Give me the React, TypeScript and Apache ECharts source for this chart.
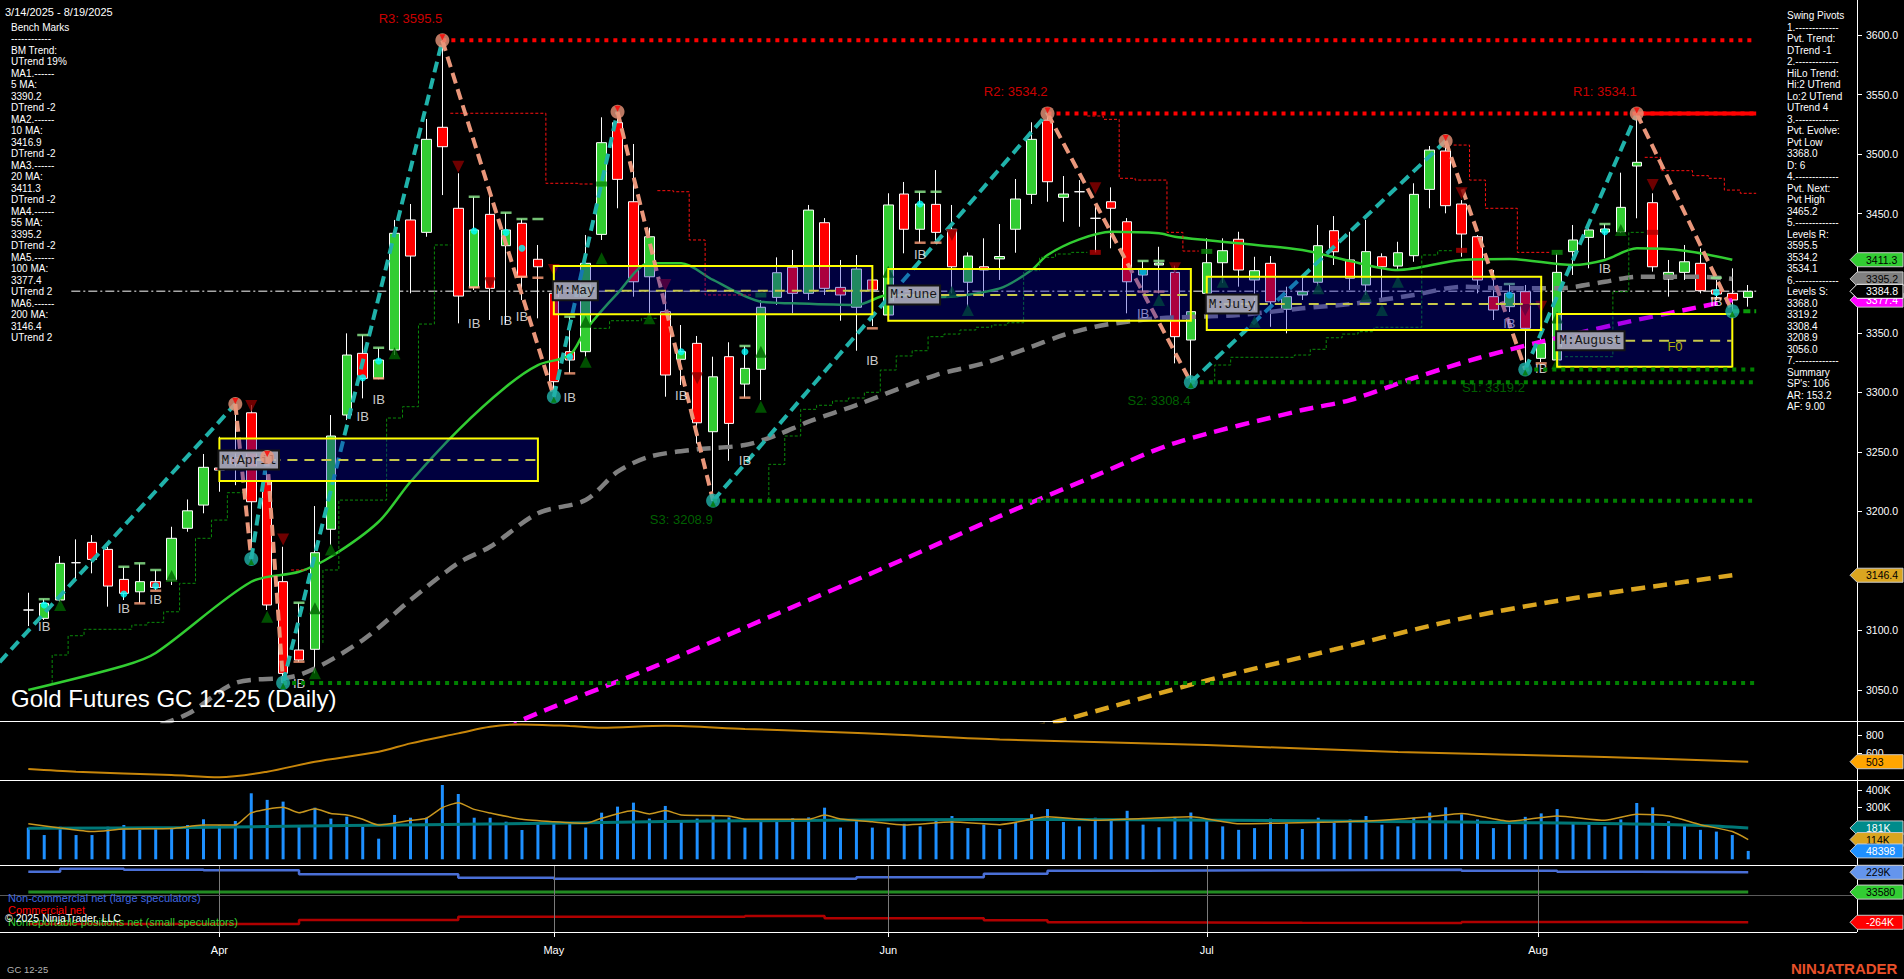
import { useEffect, useRef } from 'react';
import * as echarts from 'echarts';

const FONT = '"Liberation Sans", Arial, sans-serif';
const MONO = '"Liberation Mono", "DejaVu Sans Mono", monospace';

// ---- trading sessions shown (GC 12-25 daily) ----
const SESSIONS: [string, number[]][] = [
  ['03', [14, 17, 18, 19, 20, 21, 24, 25, 26, 27, 28, 31]],
  ['04', [1, 2, 3, 4, 7, 8, 9, 10, 11, 14, 15, 16, 17, 21, 22, 23, 24, 25, 28, 29, 30]],
  ['05', [1, 2, 5, 6, 7, 8, 9, 12, 13, 14, 15, 16, 19, 20, 21, 22, 23, 27, 28, 29, 30]],
  ['06', [2, 3, 4, 5, 6, 9, 10, 11, 12, 13, 16, 17, 18, 20, 23, 24, 25, 26, 27, 30]],
  ['07', [1, 2, 3, 7, 8, 9, 10, 11, 14, 15, 16, 17, 18, 21, 22, 23, 24, 25, 28, 29, 30, 31]],
  ['08', [1, 4, 5, 6, 7, 8, 11, 12, 13, 14, 15, 18, 19]],
];
const DATES = SESSIONS.flatMap(([m, days]) => days.map((d) => `2025-${m}-${String(d).padStart(2, '0')}`));
// month boundary marks on the time scale (bar units) and their names
const MONTH_TICKS = [12, 33, 54, 74, 94.8];
const MONTH_NAMES = ['Apr', 'May', 'Jun', 'Jul', 'Aug'];

// [open, close, low, high]
const OHLC: number[][] = [
  [3117.2, 3117.2, 3103.7, 3131.7], [3110.2, 3122.8, 3108.8, 3126.3], [3125.6, 3156.4, 3124.0, 3162.5],
  [3156.9, 3156.9, 3142.4, 3176.5], [3174.0, 3159.7, 3148.0, 3180.1], [3168.1, 3137.3, 3120.0, 3170.3],
  [3142.9, 3131.2, 3125.6, 3153.5], [3132.5, 3141.0, 3122.8, 3156.4], [3141.0, 3136.2, 3134.0, 3150.8],
  [3142.4, 3177.4, 3138.2, 3187.1], [3185.8, 3200.5, 3182.9, 3210.0], [3205.3, 3237.0, 3198.4, 3248.2],
  [3236.4, 3234.7, 3216.5, 3262.7], [3245.0, 3240.0, 3222.0, 3290.2], [3282.8, 3208.1, 3160.0, 3289.3],
  [3224.9, 3121.4, 3117.2, 3245.6], [3141.0, 3064.0, 3056.0, 3170.3], [3083.6, 3075.2, 3073.5, 3123.3],
  [3084.2, 3165.3, 3064.0, 3204.5], [3185.0, 3263.3, 3171.8, 3280.9], [3280.9, 3331.3, 3276.7, 3349.5],
  [3332.7, 3311.7, 3294.9, 3348.1], [3311.7, 3327.1, 3311.0, 3337.4], [3335.5, 3433.5, 3331.3, 3444.7],
  [3444.7, 3414.4, 3383.1, 3458.1], [3434.3, 3512.4, 3430.6, 3529.5], [3522.5, 3506.2, 3465.6, 3595.5],
  [3454.5, 3380.8, 3357.9, 3483.9], [3388.1, 3436.3, 3385.9, 3464.2], [3449.4, 3387.3, 3360.7, 3469.8],
  [3423.1, 3436.3, 3357.9, 3450.8], [3441.9, 3397.0, 3377.5, 3445.5], [3411.7, 3405.4, 3362.1, 3423.7],
  [3383.1, 3308.9, 3296.3, 3405.4], [3334.1, 3327.1, 3315.9, 3363.5], [3334.1, 3408.3, 3329.9, 3432.1],
  [3432.6, 3509.6, 3427.9, 3530.9], [3526.4, 3478.8, 3454.5, 3535.6], [3460.0, 3392.8, 3380.3, 3508.5],
  [3397.0, 3430.6, 3364.9, 3438.2], [3367.7, 3314.5, 3296.3, 3385.9], [3327.7, 3334.1, 3306.1, 3356.5],
  [3341.1, 3274.4, 3257.0, 3347.3], [3266.9, 3313.0, 3208.9, 3329.9], [3329.9, 3273.9, 3242.5, 3342.0],
  [3306.9, 3320.1, 3295.5, 3338.9], [3319.3, 3371.4, 3293.5, 3377.5], [3379.7, 3400.4, 3373.3, 3413.3],
  [3404.9, 3383.1, 3366.3, 3419.5], [3383.1, 3453.0, 3377.5, 3457.3], [3442.4, 3387.3, 3381.7, 3446.3],
  [3388.1, 3381.7, 3360.1, 3411.1], [3371.4, 3403.5, 3334.9, 3415.3], [3394.3, 3385.9, 3355.6, 3402.7],
  [3364.9, 3457.3, 3362.4, 3467.1], [3466.5, 3436.9, 3416.7, 3476.6], [3436.9, 3458.1, 3425.6, 3468.4],
  [3457.8, 3434.3, 3425.6, 3486.6], [3436.9, 3405.4, 3383.1, 3457.3], [3392.4, 3414.4, 3371.9, 3417.5],
  [3405.4, 3402.7, 3380.3, 3429.3], [3412.0, 3414.0, 3394.3, 3441.3], [3436.9, 3462.3, 3417.2, 3479.1],
  [3466.2, 3512.4, 3458.1, 3526.7], [3528.6, 3476.8, 3460.0, 3534.2], [3463.7, 3466.5, 3443.2, 3481.6],
  [3468.4, 3468.4, 3439.0, 3478.2], [3446.1, 3446.1, 3417.5, 3457.3], [3460.0, 3454.5, 3420.9, 3472.1],
  [3443.2, 3392.8, 3366.3, 3446.3], [3398.5, 3403.5, 3384.5, 3410.3], [3406.9, 3408.5, 3383.1, 3422.2],
  [3400.7, 3346.7, 3324.3, 3406.3], [3343.9, 3367.7, 3308.4, 3383.1], [3383.1, 3408.8, 3380.8, 3429.3],
  [3408.8, 3418.9, 3391.8, 3429.3], [3428.5, 3402.7, 3388.7, 3434.8], [3394.3, 3402.1, 3366.3, 3413.8],
  [3408.3, 3376.0, 3355.0, 3414.4], [3369.7, 3380.3, 3349.5, 3388.7], [3381.7, 3384.5, 3377.5, 3397.0],
  [3392.4, 3423.1, 3389.2, 3440.5], [3435.7, 3418.0, 3406.9, 3448.0], [3411.1, 3395.7, 3385.9, 3434.8],
  [3390.1, 3418.1, 3381.7, 3444.7], [3413.8, 3405.4, 3376.0, 3416.7], [3406.0, 3417.2, 3402.7, 3426.4],
  [3414.7, 3466.2, 3409.6, 3475.5], [3470.4, 3503.4, 3454.5, 3506.8], [3502.6, 3456.7, 3450.3, 3511.0],
  [3458.1, 3432.9, 3413.8, 3461.4], [3430.6, 3394.3, 3383.1, 3432.0], [3380.3, 3369.1, 3360.7, 3402.7],
  [3371.9, 3383.1, 3367.4, 3390.1], [3384.5, 3353.7, 3319.2, 3390.1], [3328.5, 3341.1, 3325.4, 3355.1],
  [3327.1, 3400.7, 3325.4, 3416.7], [3418.1, 3427.9, 3398.5, 3440.5], [3430.1, 3436.3, 3404.1, 3441.9],
  [3434.6, 3437.1, 3412.5, 3441.3], [3434.8, 3455.3, 3433.7, 3484.4], [3490.0, 3493.1, 3446.1, 3534.1],
  [3459.2, 3405.4, 3401.3, 3467.1], [3395.1, 3400.7, 3380.3, 3411.1], [3400.7, 3409.6, 3394.3, 3423.7],
  [3408.3, 3385.3, 3383.1, 3420.9], [3385.9, 3382.5, 3377.5, 3394.3], [3383.1, 3377.5, 3368.0, 3404.1],
  [3379.7, 3384.8, 3371.9, 3390.1],
];

// volume, thousands of contracts
const VOLUME_K = [
  183, 140, 188, 140, 140, 188, 198, 169, 173, 185, 198, 231, 196, 221, 381, 343, 333, 198, 298, 235,
  246, 188, 119, 256, 240, 240, 429, 377, 240, 240, 217, 169, 204, 217, 211, 183, 269, 304, 327, 235,
  308, 217, 235, 250, 242, 183, 223, 227, 237, 242, 298, 183, 231, 183, 183, 205, 190, 230, 250, 180,
  200, 175, 210, 260, 290, 215, 190, 240, 230, 280, 200, 185, 245, 270, 230, 190, 170, 180, 235, 205,
  175, 240, 210, 230, 250, 200, 190, 240, 270, 300, 260, 230, 180, 200, 245, 265, 290, 210, 200, 190,
  230, 325, 300, 220, 195, 170, 160, 140, 48.398,
];

// moving averages, [bar, price]
const MA20 = [[0, 3050.0], [6, 3070.4], [8, 3081.1], [14, 3140.9], [17, 3149.3], [19, 3161.9], [22, 3191.3], [24, 3224.9], [27, 3268.3], [30, 3304.7], [32, 3322.9], [34, 3331.3], [35, 3352.3], [37, 3383.1], [39, 3408.3], [41, 3408.3], [43, 3394.3], [46, 3376.1], [48, 3374.7], [52, 3373.3], [54, 3381.7], [57, 3379.8], [61, 3387.3], [63, 3402.7], [64, 3415.3], [66, 3428.4], [68, 3434.8], [71, 3433.5], [72, 3430.6], [76, 3425.1], [80, 3419.5], [83, 3410.2], [86, 3402.7], [90, 3411.1], [93, 3411.9], [97, 3406.9], [99, 3411.1], [101, 3420.9], [104, 3418.9], [107, 3411.3]];
const MA55 = [[7, 3015.0], [10, 3029.8], [13, 3055.9], [17, 3062.6], [21, 3092.0], [24, 3125.6], [27, 3156.6], [29, 3170.3], [32, 3198.4], [35, 3209.5], [37, 3233.3], [39, 3245.9], [42, 3252.1], [45, 3255.7], [47, 3264.1], [49, 3275.3], [52, 3289.3], [57, 3314.5], [60, 3324.3], [63, 3338.3], [65, 3348.1], [67, 3355.1], [69, 3359.3], [71, 3362.1], [76, 3364.9], [80, 3370.5], [83, 3374.1], [87, 3381.7], [90, 3388.6], [93, 3387.3], [96, 3387.3], [99, 3392.8], [101, 3397.0], [105, 3397.0], [107, 3395.2]];
const MA100 = [[30, 3015.0], [31, 3024.8], [39, 3068.0], [47, 3114.0], [55, 3160.0], [61, 3196.0], [67, 3230.0], [72, 3257.4], [80, 3285.1], [83, 3293.5], [87, 3312.0], [91, 3328.6], [95, 3342.5], [100, 3357.9], [104, 3369.1], [107, 3377.4]];
const MA200 = [[63, 3018.0], [65, 3024.8], [74, 3058.0], [82, 3084.0], [90, 3110.0], [97, 3127.0], [107, 3146.4]];

// trailing stop steps, [bar, level]
const SUPPORT_STEPS = [
  [[1.5, 3055.9], [1.5, 3079.4], [2.5, 3095.6], [3.5, 3101.0], [6.5, 3104.6], [7.5, 3106.8], [8.5, 3115.7], [9.5, 3139.6], [10.5, 3177.4], [11.5, 3192.7], [12.5, 3215.7], [13.5, 3215.7]],
  [[18.5, 3089.5], [18.5, 3150.8], [19.5, 3209.5], [22.5, 3278.4], [23.5, 3287.9], [24.5, 3357.3], [25.5, 3423.7], [26.5, 3423.7]],
  [[35.5, 3353.7], [36.5, 3360.1], [38.5, 3362.1], [39.5, 3362.1]],
  [[46.5, 3209.5], [46.5, 3239.5], [47.5, 3263.3], [48.5, 3285.7], [49.5, 3289.1], [50.5, 3292.7], [51.5, 3295.2], [52.5, 3300.0], [53.5, 3318.7], [54.5, 3330.5], [55.5, 3334.9], [56.5, 3346.7], [57.5, 3348.9], [58.5, 3352.3], [59.5, 3354.6], [60.5, 3356.5], [61.5, 3358.4], [62.5, 3402.1], [63.5, 3413.3], [64.5, 3416.1], [65.5, 3417.5], [66.5, 3417.5]],
  [[74.5, 3309.0], [74.5, 3322.9], [75.5, 3329.4], [79.5, 3331.3], [80.5, 3336.1], [81.5, 3345.8], [82.5, 3348.9], [83.5, 3350.9], [84.5, 3354.6], [87.5, 3415.3], [88.5, 3418.9], [89.5, 3418.9]],
  [[96.5, 3329.9], [99.5, 3384.5], [100.5, 3434.3], [101.5, 3434.3]],
];
const RESIST_STEPS = [
  [[16.5, 3150.8], [17.5, 3150.8]],
  [[26.5, 3534.3], [32.5, 3475.5], [34.5, 3474.9], [35.5, 3474.9]],
  [[39.5, 3469.3], [40.5, 3468.4], [41.5, 3427.9], [42.5, 3381.7], [45.5, 3381.7]],
  [[66.5, 3532.0], [67.5, 3529.2], [68.5, 3479.7], [69.5, 3478.2], [71.5, 3434.3], [72.5, 3418.6], [73.5, 3418.6]],
  [[89.5, 3507.6], [90.5, 3478.2], [91.5, 3454.5], [93.5, 3417.5], [95.5, 3417.5]],
  [[101.5, 3497.3], [102.5, 3486.1], [104.5, 3481.9], [105.5, 3479.7], [106.5, 3469.8], [107.5, 3467.1], [108.5, 3467.1]],
];

// swing pivots
const SWING_BARS = [-1.8, 13, 14, 15, 16, 26, 33, 37, 43, 64, 73, 89, 94, 101, 107];
const SWING_PRICES = [3073.5, 3290.2, 3160.0, 3245.6, 3056.0, 3595.5, 3296.3, 3535.6, 3208.9, 3534.2, 3308.4, 3511.0, 3319.2, 3534.1, 3368.0];

// swing levels
const LEVEL_NAMES = ['R3', 'R2', 'R1', 'S3', 'S2', 'S1'];
const LEVEL_PRICES = [3595.5, 3534.2, 3534.1, 3208.9, 3308.4, 3319.2];
const LEVEL_FROM = [26, 64, 101, 43, 73, 94];
const EXTRA_SUPPORT_PRICES = [3056.0];
const EXTRA_SUPPORT_FROM = [16];
const PIVOT_LOW_PRICE = 3368.0;
const PIVOT_LOW_FROM = 107;

// monthly range boxes
const BOX_NAMES = ['M:April', 'M:May', 'M:June', 'M:July', 'M:August'];
const BOX_START = [12, 33, 54, 74, 96];
const BOX_END = [32, 53, 73, 95, 107];
const BOX_TOP = [3261.3, 3406.0, 3403.5, 3397.0, 3365.7];
const BOX_MID = [3243.1, 3385.3, 3381.7, 3374.1, 3343.3];
const BOX_BOTTOM = [3225.5, 3365.5, 3360.1, 3352.3, 3321.5];
const F0_MARK = [103.4, 3338.3];

// bar signals, [bar, price]
const DOWN_MARKS = [[14, 3288.5], [16, 3176.5], [27, 3489.4], [29, 3391.5], [33, 3402.7], [40, 3390.1], [42, 3311.7], [58, 3432.1], [67, 3471.3], [72, 3404.1], [90, 3467.1], [94, 3369.0], [95, 3371.9], [102, 3474.1]];
const UP_MARKS = [[2, 3121.4], [9, 3145.7], [15, 3111.6], [18, 3118.6], [18, 3064.0], [19, 3168.1], [23, 3332.7], [35, 3325.7], [35, 3359.3], [36, 3412.5], [39, 3362.1], [46, 3287.9], [46, 3334.1], [54, 3401.2], [58, 3384.5], [59, 3369.1], [71, 3377.5], [75, 3392.8], [77, 3359.3], [81, 3387.3], [84, 3380.8], [85, 3369.1], [86, 3392.8], [96, 3362.9], [96, 3324.3], [100, 3436.3]];
const IB_MARKS = [[1, 3103.1], [6, 3118.6], [8, 3125.6], [17, 3055.6], [21, 3279.5], [22, 3294.3], [28, 3357.9], [30, 3360.7], [31, 3364.0], [34, 3295.4], [41, 3296.9], [45, 3242.5], [53, 3327.1], [56, 3416.1], [70, 3366.3], [93, 3357.9], [95, 3320.1], [99, 3404.1], [106, 3376.0]];
const CYAN_DOTS = [[1, 3121.4], [6, 3130.6], [8, 3137.6], [21, 3312.2], [22, 3326.3], [28, 3435.4], [30, 3434.3], [31, 3420.9], [34, 3329.9], [41, 3334.1], [45, 3334.1], [56, 3458.1], [70, 3401.2], [93, 3381.7], [99, 3434.8], [106, 3383.9]];
const IB_TOP = [[1, 3126.3], [6, 3153.5], [7, 3156.4], [8, 3150.8], [17, 3123.3], [21, 3348.1], [22, 3337.4], [28, 3464.2], [30, 3450.8], [31, 3445.5], [32, 3445.5], [34, 3363.5], [45, 3338.9], [56, 3468.4], [57, 3468.4], [70, 3410.3], [71, 3410.3], [93, 3390.9], [99, 3441.3], [106, 3396.2]];
const IB_BOTTOM = [[7, 3122.8], [8, 3133.4], [17, 3073.8], [22, 3311.7], [28, 3388.1], [31, 3397.0], [32, 3396.2], [34, 3315.9], [45, 3295.5], [53, 3353.7], [56, 3425.6], [57, 3425.6], [70, 3384.5], [71, 3384.5], [95, 3324.3], [106, 3378.9]];
const RED_BLOCKS = [[67, 3417.5], [90, 3419.2], [102, 3434.3]];
const GREEN_BLOCKS = [[36, 3474.9], [46, 3381.7], [74, 3418.3], [96, 3417.5]];

// lower panels
const OSC = [[0, 422], [3, 392], [9, 355], [12, 330], [15, 392], [18, 503], [22, 614], [24, 707], [27, 818], [29, 892], [31, 918], [34, 900], [36, 881], [40, 903], [45, 867], [50, 837], [55, 800], [61, 750], [74, 689], [86, 611], [99, 556], [108, 503]];
const VOL_FAST = [[0, 205], [2, 181], [4, 160], [6, 175], [9, 178], [11, 198], [13, 198], [14, 268], [16, 300], [17, 269], [18, 292], [19, 264], [20, 256], [21, 231], [22, 198], [24, 225], [25, 237], [26, 298], [27, 327], [28, 288], [29, 267], [31, 231], [33, 217], [35, 208], [36, 237], [38, 281], [39, 262], [40, 281], [41, 256], [44, 250], [45, 231], [47, 231], [49, 231], [50, 256], [51, 233], [53, 217], [55, 198], [58, 215], [61, 200], [64, 245], [67, 225], [70, 235], [73, 245], [76, 205], [79, 210], [82, 215], [85, 225], [88, 245], [90, 265], [93, 220], [96, 250], [99, 225], [101, 260], [103, 250], [105, 200], [107, 160], [108, 114]];
const VOL_SLOW = [[0, 179], [10, 183], [20, 195], [30, 205], [40, 218], [50, 225], [60, 230], [70, 228], [80, 222], [90, 215], [100, 205], [105, 195], [108, 181]];
const COT_LARGE = [[0, 235], [2, 263], [6, 255], [11, 248], [17, 210], [27, 175], [33, 166], [52, 181], [60, 215], [64, 245], [70, 250], [80, 255], [90, 245], [96, 235], [101, 229], [108, 229]];
const COT_COMMERCIAL = [[0, -281], [17, -242], [27, -209], [45, -202], [50, -225], [60, -245], [64, -265], [70, -270], [80, -272], [90, -262], [96, -258], [101, -264], [108, -264]];
const COT_SMALL = [[0, 33.58], [108, 33.58]];

const PRICE_TICKS = [3050, 3100, 3150, 3200, 3250, 3300, 3350, 3400, 3450, 3500, 3550, 3600];
// tick labels that sit free of the value flags
const PRICE_LABELS = [3050, 3100, 3200, 3250, 3300, 3350, 3450, 3500, 3550, 3600];
const OSC_TICKS = [600, 800];
const VOL_TICKS = [300, 400];

const LEFT_LINES = ['Bench Marks', '------------', 'BM Trend:', 'UTrend 19%', 'MA1.------', '5 MA:', '3390.2', 'DTrend -2', 'MA2.------', '10 MA:', '3416.9', 'DTrend -2', 'MA3.------', '20 MA:', '3411.3', 'DTrend -2', 'MA4.------', '55 MA:', '3395.2', 'DTrend -2', 'MA5.------', '100 MA:', '3377.4', 'UTrend 2', 'MA6.------', '200 MA:', '3146.4', 'UTrend 2'];
const RIGHT_LINES = ['Swing Pivots', '1.-------------', 'Pvt. Trend:', 'DTrend -1', '2.-------------', 'HiLo Trend:', 'Hi:2 UTrend', 'Lo:2 UTrend', 'UTrend 4', '3.-------------', 'Pvt. Evolve:', 'Pvt Low', '3368.0', 'D: 6', '4.-------------', 'Pvt. Next:', 'Pvt High', '3465.2', '5.-------------', 'Levels R:', '3595.5', '3534.2', '3534.1', '6.-------------', 'Levels S:', '3368.0', '3319.2', '3308.4', '3208.9', '3056.0', '7.-------------', 'Summary', "SP's: 106", 'AR: 153.2', 'AF: 9.00'];
const COT_LEGEND = ['Non-commercial net (large speculators)', 'Commercial net', 'Nonreportable positions net (small speculators)'];

// ---- layout ----
const W = 1904;
const AXIS_X = 1857;
const X_MIN = -1.777;
const X_MAX = 114.83;
const PANELS = [
  { top: 0, height: 721, min: 3024.0, max: 3629.4 },
  { top: 721, height: 59, min: 300, max: 955.6 },
  { top: 780, height: 85, min: -32.9, max: 457.7 },
  { top: 865, height: 67, min: -360, max: 300.8 },
];
const LAST_BAR = OHLC.length - 1;
const LEVEL_END = LAST_BAR + 0.5;

const kLabel = (v: number) => (Math.abs(v) >= 100 ? `${Math.round(v)}K` : `${Math.round(v * 1000)}`);

function lineSeries(data: number[][], axis: number, style: any, extra: any = {}) {
  return {
    type: 'line', xAxisIndex: axis, yAxisIndex: axis, data, symbol: 'none', silent: true,
    lineStyle: style, z: 3, ...extra,
  };
}

function scatter(data: number[][], extra: any) {
  return { type: 'scatter', xAxisIndex: 0, yAxisIndex: 0, data, silent: true, z: 8, ...extra };
}

function buildOption() {
  const series: any[] = [];

  // last price line
  series.push(lineSeries([[2.7, OHLC[LAST_BAR][1]], [LEVEL_END, OHLC[LAST_BAR][1]]], 0,
    { color: '#A8A8A8', width: 1.5, type: [9, 3, 2, 3] }, { z: 1 }));

  series.push({
    type: 'candlestick', xAxisIndex: 0, yAxisIndex: 0, silent: true, z: 2, barWidth: 10,
    data: OHLC.map((c, i) => [i, c[0], c[1], c[2], c[3]]),
    itemStyle: { color: '#32CD32', color0: '#FF0000', borderColor: '#FFFFFF', borderColor0: '#FFFFFF', borderWidth: 1 },
  });

  // moving averages
  series.push(lineSeries(MA200, 0, { color: '#DAA520', width: 4.5, type: [14, 8] }, { smooth: 0.3 }));
  series.push(lineSeries(MA100, 0, { color: '#FF00FF', width: 4.5, type: [14, 8] }, { smooth: 0.3 }));
  series.push(lineSeries(MA55, 0, { color: '#808080', width: 4.5, type: [14, 8] }, { smooth: 0.3 }));
  series.push(lineSeries(MA20, 0, { color: '#32CD32', width: 2.5 }, { smooth: 0.3 }));

  // trailing steps
  SUPPORT_STEPS.forEach((seg) => series.push(lineSeries(seg, 0, { color: '#0A8A0A', width: 1, type: [3, 2] }, { step: 'end' })));
  RESIST_STEPS.forEach((seg) => series.push(lineSeries(seg, 0, { color: '#FF1010', width: 1, type: [3, 2] }, { step: 'end' })));

  // swing legs
  for (let k = 0; k < SWING_BARS.length - 1; k++) {
    const up = SWING_PRICES[k + 1] > SWING_PRICES[k];
    series.push(lineSeries(
      [[SWING_BARS[k], SWING_PRICES[k]], [SWING_BARS[k + 1], SWING_PRICES[k + 1]]], 0,
      { color: up ? '#20B2AA' : '#E9967A', width: 4, type: [11, 6] }, { z: 4 }));
  }

  // monthly range boxes
  series.push({
    type: 'custom', xAxisIndex: 0, yAxisIndex: 0, silent: true, z: 6,
    data: BOX_START.map((s, i) => [s, BOX_END[i], BOX_TOP[i], BOX_MID[i], BOX_BOTTOM[i]]),
    encode: { x: [0, 1], y: [2, 3, 4] },
    renderItem: (params: any, api: any) => {
      const i = params.dataIndex;
      const a = api.coord([api.value(0), api.value(2)]);
      const b = api.coord([api.value(1), api.value(4)]);
      const m1 = api.coord([api.value(0), api.value(3)]);
      const m2 = api.coord([api.value(1), api.value(3)]);
      return {
        type: 'group',
        children: [
          { type: 'rect', shape: { x: a[0], y: a[1], width: b[0] - a[0], height: b[1] - a[1] },
            style: { fill: 'rgba(0,0,190,0.33)', stroke: '#FFFF00', lineWidth: 2 } },
          { type: 'line', shape: { x1: m1[0], y1: m1[1], x2: m2[0], y2: m2[1] },
            style: { stroke: '#C8C84A', lineWidth: 2, lineDash: [10, 7] } },
          { type: 'text', x: a[0], y: m1[1],
            style: { text: BOX_NAMES[i], fill: '#151515', fontSize: 13, fontFamily: MONO,
              backgroundColor: 'rgba(178,178,192,0.88)', borderColor: '#151515', borderWidth: 2,
              padding: [2, 2, 2, 2], verticalAlign: 'middle', align: 'left' } },
        ],
      };
    },
  });
  series.push(scatter([F0_MARK], {
    symbolSize: 0, z: 9,
    label: { show: true, formatter: 'F0', color: '#E0E000', fontSize: 13, fontFamily: FONT, position: 'inside' },
  }));

  // levels
  LEVEL_NAMES.forEach((name, i) => {
    const isR = name.startsWith('R');
    const solid = name === 'R1';
    series.push(lineSeries([[LEVEL_FROM[i], LEVEL_PRICES[i]], [LEVEL_END, LEVEL_PRICES[i]]], 0,
      { color: isR ? '#FF0000' : '#008000', width: 4, type: solid ? 'solid' : [4, 5] }, { z: 7 }));
    series.push(scatter([[LEVEL_FROM[i] - 2, LEVEL_PRICES[i]]], {
      symbolSize: 0, z: 9,
      label: {
        show: true, formatter: `${name}: ${LEVEL_PRICES[i].toFixed(1)}`, color: isR ? '#FF0000' : '#007A00',
        fontSize: 13, fontFamily: FONT, position: isR ? 'top' : 'bottom', distance: isR ? 15 : 12,
      },
    }));
  });
  EXTRA_SUPPORT_PRICES.forEach((p, i) => series.push(lineSeries([[EXTRA_SUPPORT_FROM[i], p], [LEVEL_END, p]], 0,
    { color: '#008000', width: 4, type: [4, 5] }, { z: 7 })));
  series.push(lineSeries([[PIVOT_LOW_FROM, PIVOT_LOW_PRICE], [LEVEL_END, PIVOT_LOW_PRICE]], 0,
    { color: '#0A9A0A', width: 4, type: [7, 4] }, { z: 7 }));

  // pivot markers
  const highs: number[][] = [];
  const lows: number[][] = [];
  for (let k = 1; k < SWING_BARS.length; k++) {
    (SWING_PRICES[k] > SWING_PRICES[k - 1] ? highs : lows).push([SWING_BARS[k], SWING_PRICES[k]]);
  }
  series.push(scatter(highs, { symbol: 'circle', symbolSize: 14, itemStyle: { color: '#E9967A' } }));
  series.push(scatter(highs, { symbol: 'triangle', symbolRotate: 180, symbolSize: 6, symbolOffset: [0, -3], itemStyle: { color: '#FF0000' }, z: 9 }));
  series.push(scatter(lows, { symbol: 'circle', symbolSize: 14, itemStyle: { color: '#20B2AA' } }));
  series.push(scatter(lows, { symbol: 'triangle', symbolSize: 6, symbolOffset: [0, 3], itemStyle: { color: '#007A00' }, z: 9 }));

  // bar signals
  series.push(scatter(DOWN_MARKS, { symbol: 'triangle', symbolRotate: 180, symbolSize: 12, itemStyle: { color: '#8B0000' }, z: 5 }));
  series.push(scatter(UP_MARKS, { symbol: 'triangle', symbolSize: 12, itemStyle: { color: '#006400' }, z: 5 }));
  series.push(scatter(RED_BLOCKS, { symbol: 'rect', symbolSize: [11, 5], itemStyle: { color: '#B00000' }, z: 5 }));
  series.push(scatter(GREEN_BLOCKS, { symbol: 'rect', symbolSize: [11, 5], itemStyle: { color: '#0A8A0A' }, z: 5 }));
  series.push(scatter(IB_TOP, { symbol: 'rect', symbolSize: [11, 2.5], itemStyle: { color: '#90EE90' }, z: 5 }));
  series.push(scatter(IB_BOTTOM, { symbol: 'rect', symbolSize: [11, 2.5], itemStyle: { color: '#FFA07A' }, z: 5 }));
  series.push(scatter(CYAN_DOTS, { symbol: 'circle', symbolSize: 7, itemStyle: { color: '#00FFFF' }, z: 5 }));
  series.push(scatter(IB_MARKS, {
    symbolSize: 0, z: 5,
    label: { show: true, formatter: 'IB', position: 'inside', color: '#FFFFFF', fontSize: 13, fontFamily: FONT,
      textShadowColor: '#FF8C50', textShadowOffsetX: -1.2, textShadowBlur: 0 },
  }));

  // panel 2
  series.push(lineSeries(OSC, 1, { color: '#C8860A', width: 2 }, { smooth: 0.3 }));

  // panel 3
  series.push({
    type: 'bar', xAxisIndex: 2, yAxisIndex: 2, silent: true, barWidth: 3,
    data: VOLUME_K.map((v, i) => [i, v]), itemStyle: { color: '#1E90FF' }, z: 2,
  });
  series.push(lineSeries(VOL_SLOW, 2, { color: '#007878', width: 3 }, { smooth: 0.3 }));
  series.push(lineSeries(VOL_FAST, 2, { color: '#C8961E', width: 1.5 }, { smooth: 0.2 }));

  // panel 4
  series.push(lineSeries(COT_SMALL, 3, { color: '#228B22', width: 3 }, {
    markLine: {
      silent: true, symbol: ['none', 'none'], label: { show: false },
      data: [
        ...MONTH_TICKS.map((v) => ({ xAxis: v, lineStyle: { color: '#7A7A7A', width: 1, type: 'solid' } })),
        { yAxis: 0, lineStyle: { color: '#5A5A5A', width: 1, type: 'solid' } },
      ],
    },
  }));
  series.push(lineSeries(COT_LARGE, 3, { color: '#4A6FD6', width: 2.5 }, { step: 'end' }));
  series.push(lineSeries(COT_COMMERCIAL, 3, { color: '#B00000', width: 2.5 }, { step: 'end' }));

  const tickCfg = (ticks: number[], labels: number[], fmt: (v: number) => string) => ({
    axisTick: { show: true, customValues: ticks, length: 5, inside: false, lineStyle: { color: '#FFFFFF' } },
    axisLabel: { show: true, customValues: labels, formatter: fmt, color: '#FFFFFF', fontSize: 10.5, fontFamily: FONT, margin: 9 },
  });

  return {
    animation: false,
    backgroundColor: '#000000',
    textStyle: { fontFamily: FONT },
    grid: PANELS.map((p) => ({ left: 0, right: W - AXIS_X, top: p.top, height: p.height })),
    xAxis: PANELS.map((_, g) => ({
      type: 'value', gridIndex: g, min: X_MIN, max: X_MAX,
      axisLine: { show: false, onZero: false }, splitLine: { show: false },
      axisTick: g === 3 ? { show: true, customValues: MONTH_TICKS, length: 5, lineStyle: { color: '#FFFFFF' } } : { show: false },
      axisLabel: g === 3 ? {
        show: true, customValues: MONTH_TICKS, color: '#FFFFFF', fontSize: 11, fontFamily: FONT, margin: 12,
        formatter: (v: number) => MONTH_NAMES[MONTH_TICKS.findIndex((t) => Math.abs(t - v) < 0.01)] ?? '',
      } : { show: false },
    })),
    yAxis: PANELS.map((p, g) => ({
      type: 'value', gridIndex: g, position: 'right', min: p.min, max: p.max,
      axisLine: { show: false, onZero: false }, splitLine: { show: false },
      ...(g === 0 ? tickCfg(PRICE_TICKS, PRICE_LABELS, (v) => v.toFixed(1))
        : g === 1 ? tickCfg(OSC_TICKS, OSC_TICKS, (v) => String(v))
        : g === 2 ? tickCfg(VOL_TICKS, VOL_TICKS, (v) => `${v}K`)
        : { axisTick: { show: false }, axisLabel: { show: false } }),
    })),
    series,
  };
}

function buildGraphics(chart: any) {
  const els: any[] = [];
  const text = (t: string, x: number, y: number, style: any = {}) => els.push({
    type: 'text', x, y, z: 50, silent: true,
    style: { text: t, fill: '#FFFFFF', fontSize: 10, fontFamily: FONT, verticalAlign: 'middle', ...style },
  });
  const hline = (y: number, x2: number) => els.push({
    type: 'line', z: 40, silent: true, shape: { x1: 0, y1: y, x2, y2: y }, style: { stroke: '#FFFFFF', lineWidth: 1 },
  });

  PANELS.slice(1).forEach((p) => hline(p.top + 0.5, W));
  hline(PANELS[3].top + PANELS[3].height + 0.5, AXIS_X);
  els.push({ type: 'line', z: 40, silent: true, shape: { x1: AXIS_X + 0.5, y1: 0, x2: AXIS_X + 0.5, y2: 932 }, style: { stroke: '#FFFFFF', lineWidth: 1 } });

  const md = (d: string) => `${Number(d.slice(5, 7))}/${Number(d.slice(8))}/${d.slice(0, 4)}`;
  text(`${md(DATES[0])} - ${md(DATES[LAST_BAR])}`, 5, 12, { fontSize: 11 });
  els.push({ type: 'text', x: 11, y: 21.25, z: 50, silent: true,
    style: { text: LEFT_LINES.join('\n'), fill: '#FFFFFF', fontSize: 10, fontFamily: FONT, lineHeight: 11.5, verticalAlign: 'top' } });
  els.push({ type: 'text', x: 1787, y: 9.95, z: 50, silent: true,
    style: { text: RIGHT_LINES.join('\n'), fill: '#FFFFFF', fontSize: 10, fontFamily: FONT, lineHeight: 11.5, verticalAlign: 'top' } });

  text('Gold Futures GC 12-25 (Daily)', 11, 698, { fontSize: 24 });
  text(COT_LEGEND[0], 8, 898, { fill: '#4169E1', fontSize: 11 });
  text(COT_LEGEND[1], 8, 910, { fill: '#FF0000', fontSize: 11 });
  text(COT_LEGEND[2], 8, 922, { fill: '#32CD32', fontSize: 11 });
  text('\u00A9 2025 NinjaTrader, LLC', 5, 918, { fontSize: 10.5 });
  text('GC 12-25', 7, 969, { fill: '#B4B4B4', fontSize: 9.5 });
  text('NINJATRADER', 1791, 968, { fill: '#E8502A', fontSize: 15, fontWeight: 'bold' });

  const lastOf = (arr: number[][]) => arr[arr.length - 1][1];
  const flags = [
    { axis: 0, value: lastOf(MA20), fill: '#32CD32', color: '#000000' },
    { axis: 0, value: lastOf(MA55), fill: '#808080', color: '#000000' },
    { axis: 0, value: lastOf(MA100), fill: '#FF00FF', color: '#FFFFFF' },
    { axis: 0, value: OHLC[LAST_BAR][1], fill: '#000000', color: '#FFFFFF', stroke: '#FFFFFF' },
    { axis: 0, value: lastOf(MA200), fill: '#DAA520', color: '#000000' },
    { axis: 1, value: lastOf(OSC), fill: '#FFA500', color: '#000000' },
    { axis: 2, value: lastOf(VOL_SLOW), fill: '#008B8B', color: '#FFFFFF' },
    { axis: 2, value: lastOf(VOL_FAST), fill: '#DAA520', color: '#000000' },
    { axis: 2, value: VOLUME_K[LAST_BAR], fill: '#1E90FF', color: '#FFFFFF' },
    { axis: 3, value: lastOf(COT_LARGE), fill: '#6495ED', color: '#000000' },
    { axis: 3, value: lastOf(COT_SMALL), fill: '#32CD32', color: '#000000' },
    { axis: 3, value: lastOf(COT_COMMERCIAL), fill: '#FF0000', color: '#FFFFFF' },
  ];
  flags.forEach((f, i) => {
    const y = chart.convertToPixel({ yAxisIndex: f.axis }, f.value);
    const label = f.axis === 0 ? f.value.toFixed(1) : f.axis === 1 ? String(Math.round(f.value)) : kLabel(f.value);
    els.push({
      type: 'polygon', z: 60 + i * 2, silent: true,
      shape: { points: [[AXIS_X - 7, y], [AXIS_X, y - 7], [W - 1, y - 7], [W - 1, y + 7], [AXIS_X, y + 7]] },
      style: { fill: f.fill, stroke: f.stroke ?? '#C8C8C8', lineWidth: 1 },
    });
    els.push({
      type: 'text', x: AXIS_X + 9, y, z: 61 + i * 2, silent: true,
      style: { text: label, fill: f.color, fontSize: 10.5, fontFamily: FONT, verticalAlign: 'middle' },
    });
  });
  return els;
}

export default function App() {
  const ref = useRef<HTMLDivElement>(null);
  useEffect(() => {
    const chart = echarts.init(ref.current!, null, { renderer: 'svg' });
    chart.setOption(buildOption() as any);
    chart.setOption({ graphic: buildGraphics(chart) } as any);
    return () => chart.dispose();
  }, []);
  return (
    <div
      ref={ref}
      style={{ position: 'fixed', left: 0, top: 0, width: 1904, height: 979, background: '#000000' }}
    />
  );
}
